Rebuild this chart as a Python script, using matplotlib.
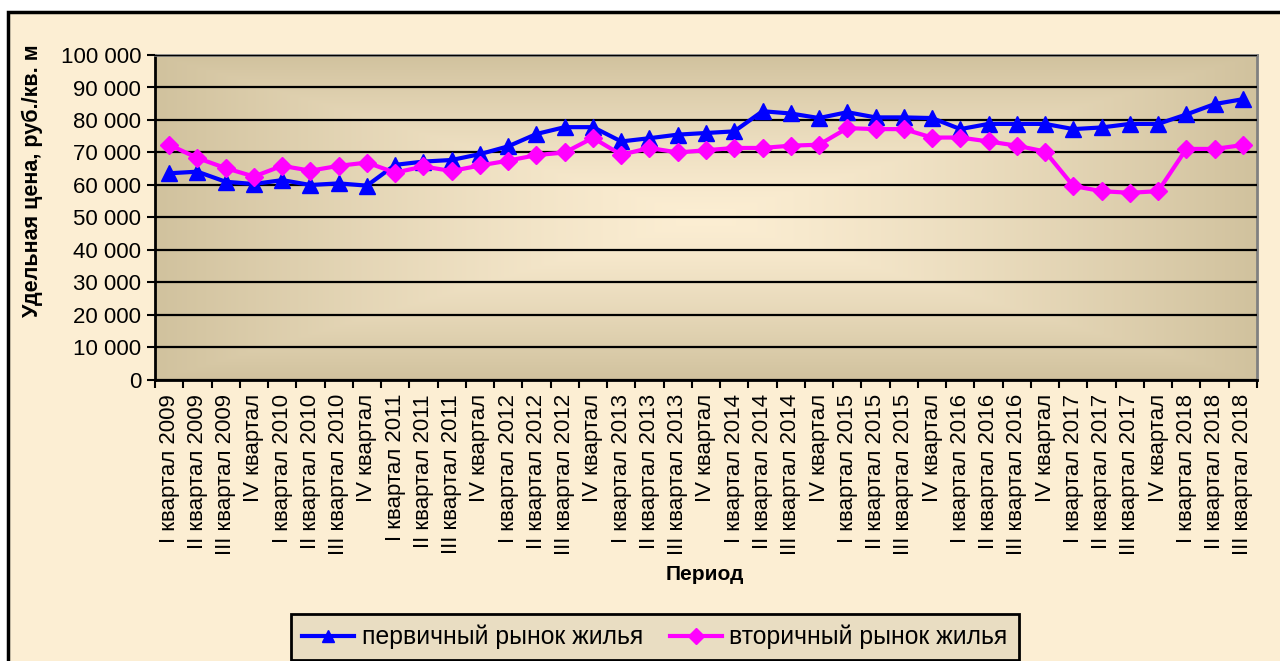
import numpy as np
import matplotlib.pyplot as plt
from matplotlib.patches import Rectangle
from matplotlib.colors import to_rgb
from matplotlib.ticker import FuncFormatter, MultipleLocator

plt.rcParams['font.family'] = ['Liberation Sans', 'DejaVu Sans']

years = list(range(2009, 2019))
quarters = ['I', 'II', 'III', 'IV']
periods = []
for y in years:
    for q in quarters:
        if y == 2018 and q == 'IV':
            continue
        periods.append(f"{q} квартал" if q == 'IV' else f"{q} квартал {y}")

primary = [63600, 64100, 61000, 60300, 61500, 60000, 60500, 59800,
           66200, 67200, 67700, 69500, 71900, 75700, 77800, 77800,
           73400, 74400, 75500, 76000, 76500, 82700, 82000, 80600,
           82400, 80800, 80800, 80600, 77200, 78800, 78800, 78800,
           77200, 77700, 78800, 78800, 81700, 84900, 86400]
secondary = [72400, 68300, 65200, 62600, 65900, 64400, 65900, 66900,
             63800, 65700, 64300, 66000, 67500, 69200, 70000, 74500,
             69300, 71400, 70000, 70700, 71400, 71400, 72100, 72400,
             77500, 77200, 77200, 74600, 74600, 73400, 72100, 70300,
             59700, 58100, 57600, 58100, 71100, 71100, 72300]

bg = '#FCEED3'
edge = '#D1C29E'

fig = plt.figure(figsize=(12.8, 6.61), dpi=100, facecolor='white')
# outer chart frame
frame = Rectangle((8 / 1280, -0.05), 1.1, 1 - 12 / 661 + 0.05,
                  transform=fig.transFigure, facecolor=bg,
                  edgecolor='black', linewidth=2.5, zorder=-5)
fig.patches.append(frame)

ax = fig.add_axes([155 / 1280, 1 - 380 / 661, (1257 - 155) / 1280, 325 / 661])

# "from center" gradient for the plot area
n = 200
u = np.linspace(-1, 1, n)
U, V = np.meshgrid(u, u)
t = np.maximum(np.abs(U), np.abs(V)) ** 1.3
c0, c1 = np.array(to_rgb(bg)), np.array(to_rgb(edge))
img = c0 + (c1 - c0) * t[..., None]
ax.imshow(img, extent=[-0.5, len(periods) - 0.5, 0, 100000],
          aspect='auto', zorder=0, interpolation='bilinear')

x = np.arange(len(periods))
ax.plot(x, primary, color='#0000FF', lw=3, marker='^', ms=11,
        label='первичный рынок жилья', zorder=3)
ax.plot(x, secondary, color='#FF00FF', lw=3, marker='D', ms=9,
        label='вторичный рынок жилья', zorder=3)

ax.set_xlim(-0.5, len(periods) - 0.5)
ax.set_ylim(0, 100000)
ax.yaxis.set_major_locator(MultipleLocator(10000))
ax.yaxis.set_major_formatter(FuncFormatter(lambda v, p: f"{int(v):,}".replace(',', ' ')))
ax.grid(axis='y', color='black', lw=1.6, zorder=1)
ax.set_axisbelow(False)

ax.set_xticks(x)
ax.set_xticklabels(periods, rotation=90, va='top', ha='center', fontsize=16)
ax.set_xticks(np.arange(len(periods) + 1) - 0.5, minor=True)
ax.tick_params(axis='x', which='major', length=0, pad=10)
ax.tick_params(axis='x', which='minor', length=6, width=1.5, direction='out')
ax.tick_params(axis='y', length=6, width=1.5, labelsize=16, pad=4)

for s in ['left', 'bottom']:
    ax.spines[s].set_color('black')
    ax.spines[s].set_linewidth(2)
for s in ['top', 'right']:
    ax.spines[s].set_color('#808080')
    ax.spines[s].set_linewidth(2)

fig.text(32 / 1280, 1 - 181 / 661, 'Удельная цена, руб./кв. м', rotation=90,
         ha='center', va='center', fontsize=15.5, fontweight='bold')
fig.text(705 / 1280, 1 - 575 / 661, 'Период', ha='center', va='center',
         fontsize=15, fontweight='bold')

leg = fig.legend(loc='center', bbox_to_anchor=(655 / 1280, 1 - 637 / 661), ncol=2,
                 fontsize=17.8, frameon=True, fancybox=False, edgecolor='black',
                 facecolor='#E9DDC2', framealpha=1, handlelength=2.1,
                 columnspacing=1.1, borderpad=0.45, handletextpad=0.3)
leg.get_frame().set_linewidth(2)
for h in leg.legend_handles:
    h.set_markersize(8)

fig.savefig('out.png', dpi=100, facecolor=fig.get_facecolor())
